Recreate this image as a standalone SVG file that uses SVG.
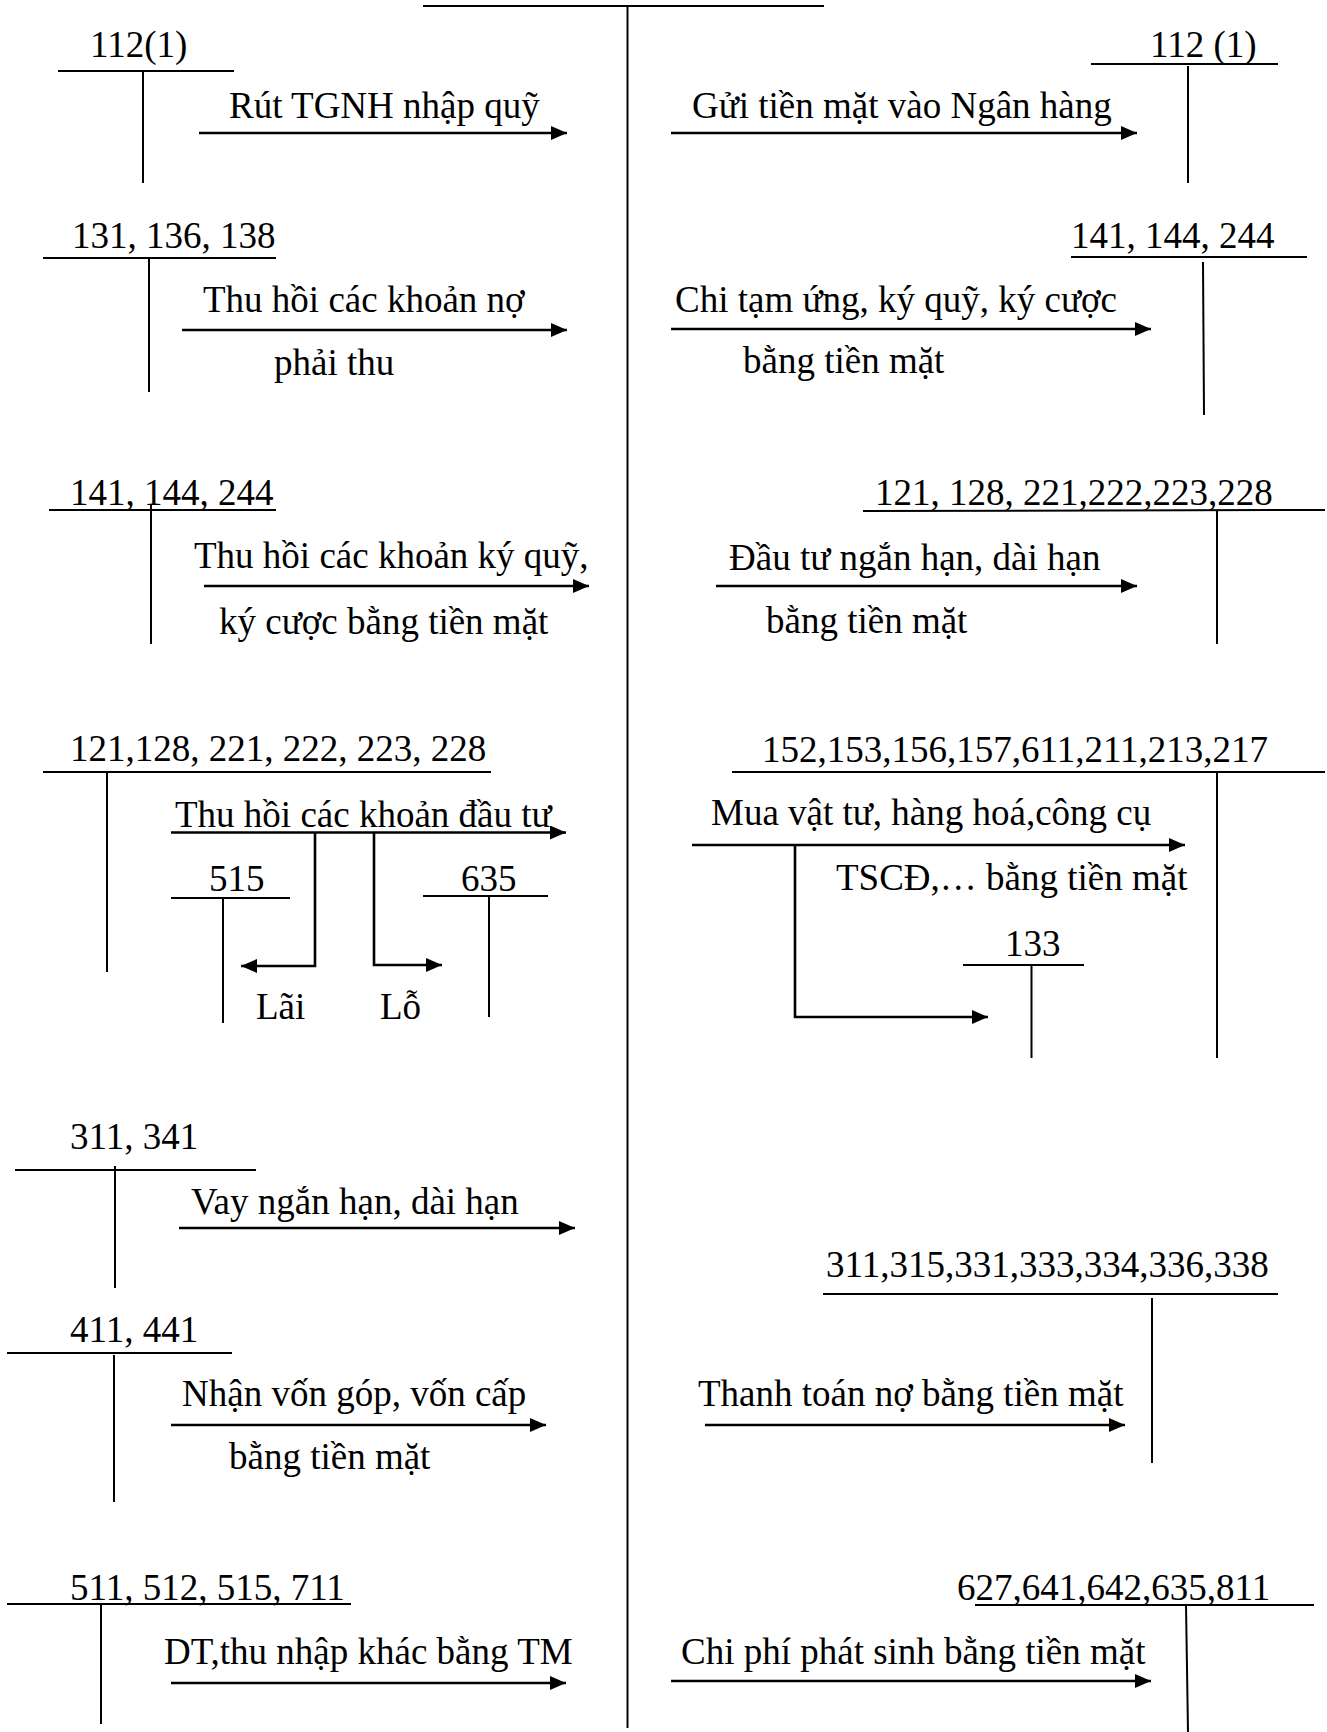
<svg xmlns="http://www.w3.org/2000/svg" width="1327" height="1732" viewBox="0 0 1327 1732">
<style>
text{font-family:"Liberation Serif","Times New Roman",serif;font-size:37px;fill:#000}
.t{stroke:#000;stroke-width:2;fill:none}
.a{stroke:#000;stroke-width:2.6;fill:none;marker-end:url(#ah)}
.b{stroke:#000;stroke-width:2.2;fill:none}
</style>
<defs>
<marker id="ah" markerUnits="userSpaceOnUse" markerWidth="18" markerHeight="16" refX="16" refY="7" orient="auto">
<path d="M0,0 L16,7 L0,14 z" fill="#000"/>
</marker>
</defs>
<rect width="1327" height="1732" fill="#fff"/>

<g id="tk111">
<line class="t" x1="423" y1="6" x2="824" y2="6"/>
<line class="t" x1="627.5" y1="6" x2="627.5" y2="1728"/>
</g>

<g id="L1-112">
<text x="90" y="57">112(1)</text>
<line class="t" x1="58" y1="71" x2="234" y2="71"/>
<line class="t" x1="143" y1="71" x2="143" y2="183"/>
</g>
<g id="L2-131">
<text x="72" y="248">131, 136, 138</text>
<line class="t" x1="43" y1="258" x2="276" y2="258"/>
<line class="t" x1="149" y1="258" x2="149" y2="392"/>
</g>
<g id="L3-141">
<text x="70" y="505">141, 144, 244</text>
<line class="t" x1="49" y1="510" x2="276" y2="510"/>
<line class="t" x1="151" y1="505" x2="151" y2="644"/>
</g>
<g id="L4-121">
<text x="70" y="761">121,128, 221, 222, 223, 228</text>
<line class="t" x1="43" y1="772" x2="491" y2="772"/>
<line class="t" x1="107" y1="772" x2="107" y2="972"/>
</g>
<g id="L4-515">
<text x="209" y="891">515</text>
<line class="t" x1="171" y1="898" x2="290" y2="898"/>
<line class="t" x1="223" y1="898" x2="223" y2="1023"/>
</g>
<g id="L4-635">
<text x="461" y="891">635</text>
<line class="t" x1="423" y1="896" x2="548" y2="896"/>
<line class="t" x1="489" y1="896" x2="489" y2="1017"/>
</g>
<g id="L5-311">
<text x="70" y="1149">311, 341</text>
<line class="t" x1="15" y1="1170" x2="256" y2="1170"/>
<line class="t" x1="115" y1="1166" x2="115" y2="1288"/>
</g>
<g id="L6-411">
<text x="70" y="1342">411, 441</text>
<line class="t" x1="7" y1="1353" x2="232" y2="1353"/>
<line class="t" x1="114" y1="1355" x2="114" y2="1502"/>
</g>
<g id="L7-511">
<text x="70" y="1600">511, 512, 515, 711</text>
<line class="t" x1="7" y1="1604" x2="351" y2="1604"/>
<line class="t" x1="101" y1="1604" x2="101" y2="1724"/>
</g>

<g id="R1-112">
<text x="1150" y="57">112 (1)</text>
<line class="t" x1="1091" y1="64" x2="1278" y2="64"/>
<line class="t" x1="1188" y1="66" x2="1188" y2="183"/>
</g>
<g id="R2-141">
<text x="1071" y="248">141, 144, 244</text>
<line class="t" x1="1071" y1="257" x2="1307" y2="257"/>
<line class="t" x1="1203" y1="262" x2="1204" y2="415"/>
</g>
<g id="R3-121">
<text x="875" y="505">121, 128, 221,222,223,228</text>
<line class="t" x1="863" y1="511" x2="1325" y2="510"/>
<line class="t" x1="1217" y1="511" x2="1217" y2="644"/>
</g>
<g id="R4-152">
<text x="762" y="762">152,153,156,157,611,211,213,217</text>
<line class="t" x1="732" y1="772" x2="1325" y2="772"/>
<line class="t" x1="1217" y1="772" x2="1217" y2="1058"/>
</g>
<g id="R4-133">
<text x="1005" y="956">133</text>
<line class="t" x1="963" y1="965" x2="1084" y2="965"/>
<line class="t" x1="1031.5" y1="965" x2="1031.5" y2="1058"/>
</g>
<g id="R5-311">
<text x="826" y="1277">311,315,331,333,334,336,338</text>
<line class="t" x1="823" y1="1294" x2="1278" y2="1294"/>
<line class="t" x1="1152" y1="1298" x2="1152" y2="1463"/>
</g>
<g id="R6-627">
<text x="957" y="1600">627,641,642,635,811</text>
<line class="t" x1="975" y1="1605" x2="1314" y2="1605"/>
<line class="t" x1="1186" y1="1605" x2="1188" y2="1732"/>
</g>

<g id="connectors">
<line class="a" x1="199" y1="133" x2="567" y2="133"/>
<text x="229" y="118">Rút TGNH nhập quỹ</text>

<line class="a" x1="182" y1="330" x2="567" y2="330"/>
<text x="203" y="312">Thu hồi các khoản nợ</text>
<text x="274" y="375">phải thu</text>

<line class="a" x1="204" y1="586" x2="589" y2="586"/>
<text x="194" y="568">Thu hồi các khoản ký quỹ,</text>
<text x="219" y="634">ký cược bằng tiền mặt</text>

<line class="a" x1="171" y1="832.5" x2="566" y2="832.5"/>
<text x="175" y="827">Thu hồi các khoản đầu tư</text>
<polyline class="a" points="315,832 315,966 241,966"/>
<polyline class="a" points="374,832 374,965 442,965"/>
<text x="256" y="1019">Lãi</text>
<text x="380" y="1019">Lỗ</text>

<line class="a" x1="179" y1="1228" x2="575" y2="1228"/>
<text x="191" y="1214">Vay ngắn hạn, dài hạn</text>

<line class="a" x1="171" y1="1425" x2="546" y2="1425"/>
<text x="182" y="1406">Nhận vốn góp, vốn cấp</text>
<text x="229" y="1469">bằng tiền mặt</text>

<line class="a" x1="171" y1="1683" x2="566" y2="1683"/>
<text x="164" y="1664">DT,thu nhập khác bằng TM</text>

<line class="a" x1="671" y1="133" x2="1137" y2="133"/>
<text x="692" y="118">Gửi tiền mặt vào Ngân hàng</text>

<line class="a" x1="671" y1="329" x2="1151" y2="329"/>
<text x="675" y="312">Chi tạm ứng, ký quỹ, ký cược</text>
<text x="743" y="373">bằng tiền mặt</text>

<line class="a" x1="716" y1="586" x2="1137" y2="586"/>
<text x="729" y="570">Đầu tư ngắn hạn, dài hạn</text>
<text x="766" y="633">bằng tiền mặt</text>

<line class="a" x1="692" y1="845" x2="1185" y2="845"/>
<text x="711" y="825">Mua vật tư, hàng hoá,công cụ</text>
<text x="836" y="890">TSCĐ,… bằng tiền mặt</text>
<polyline class="a" points="795,845 795,1017 988,1017"/>

<line class="a" x1="705" y1="1425" x2="1125" y2="1425"/>
<text x="698" y="1406">Thanh toán nợ bằng tiền mặt</text>

<line class="a" x1="671" y1="1681" x2="1151" y2="1681"/>
<text x="681" y="1664">Chi phí phát sinh bằng tiền mặt</text>
</g>
</svg>
